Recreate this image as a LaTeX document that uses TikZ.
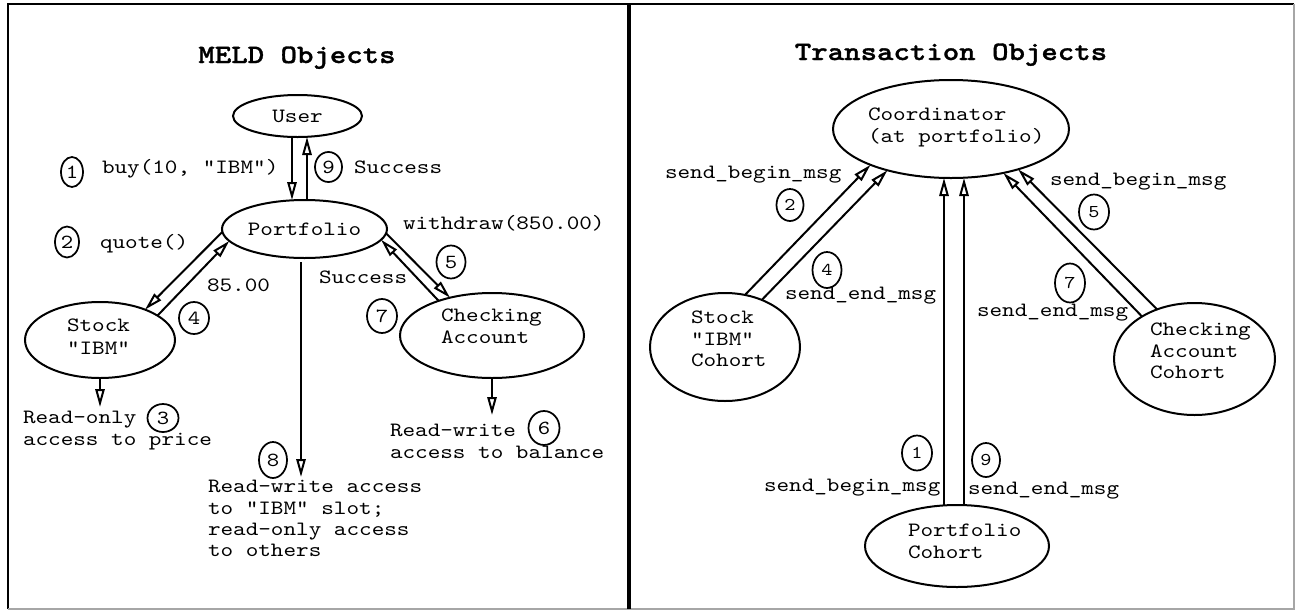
\documentclass[tikz,border=0pt]{standalone}
\usepackage{fontspec}
\setmonofont{lmmono10-regular.otf}[FakeStretch=1.18, BoldFont=lmmonolt10-bold.otf, BoldFeatures={FakeBold=1.2}]
\usetikzlibrary{shapes.geometric, arrows.meta}
\def\pxu{0.75pt}
\newcommand\txtfont{\fontsize{15.25pt}{16pt}\selectfont\ttfamily}
\newcommand\numfont{\fontsize{15pt}{16pt}\selectfont\ttfamily}
\newcommand\numfontr{\fontsize{13.5pt}{14pt}\selectfont\ttfamily}
\newcommand\titlefont{\fontsize{19.9pt}{22pt}\selectfont\ttfamily\bfseries}
\begin{document}
\begin{tikzpicture}[x=0.75pt, y=-0.75pt,
  every node/.style={inner sep=0pt, outer sep=0pt},
  obj/.style={draw, ellipse, line width=1.5pt, inner sep=0pt},
  num/.style={draw, ellipse, line width=1.3pt, inner sep=0pt, font=\numfont},
  numr/.style={num, font=\numfontr},
  lbl/.style={font=\txtfont, anchor=base west},
  mlbl/.style={font=\txtfont, anchor=north west, align=left},
  ttl/.style={font=\titlefont, anchor=base},
  msg/.style={line width=1.5pt, -{Triangle[open, length=13.5pt, width=7pt]}},
]
\useasboundingbox (0,0) rectangle (1296,611);
\fill[white] (0,0) rectangle (1296,611);
% frame
\draw[line width=1.5pt] (8,609) -- (8,3.5) -- (1294,3.5);
\draw[line width=1pt, black!35] (1294,3.5) -- (1294,609) -- (8,609);
\draw[line width=3pt] (629,3.5) -- (629,609);

% ---------------- left panel: MELD objects
\node[ttl] (meldT) at (297,63) {MELD Objects};

\node[obj, minimum width=129*\pxu, minimum height=42*\pxu, font=\txtfont] (user) at (297.5,116) {User};
\node[obj, minimum width=165*\pxu, minimum height=58*\pxu, font=\txtfont] (portfolio) at (304.5,229) {Portfolio};
\node[obj, minimum width=150*\pxu, minimum height=76*\pxu] (stock) at (100,340) {};
\node[mlbl, font=\fontsize{15.25pt}{17pt}\selectfont\ttfamily] (stockT) at (67,316) {\strut Stock\\\strut "IBM"};
\node[obj, minimum width=184*\pxu, minimum height=85*\pxu] (checking) at (492,335.5) {};
\node[mlbl] (checkingT) at (441,307) {\strut Checking\\\strut Account};

\node[num, minimum width=22*\pxu, minimum height=30*\pxu] (n1) at (72,172) {1};
\node[lbl] (buy) at (102,173) {buy(10, "IBM")};
\node[num, minimum width=27*\pxu, minimum height=30*\pxu] (n9) at (328.5,167) {9};
\node[lbl] (succ1) at (354,173) {Success};
\node[num, minimum width=24*\pxu, minimum height=31*\pxu] (n2) at (67,242) {2};
\node[lbl] (quote) at (100,248) {quote()};
\node[lbl] (withdraw) at (403,229) {withdraw(850.00)};
\node[lbl] (price) at (207,291) {85.00};
\node[num, minimum width=29*\pxu, minimum height=33*\pxu] (n5) at (451,262) {5};
\node[lbl] (succ2) at (319,283) {Success};
\node[num, minimum width=30*\pxu, minimum height=32*\pxu] (n4) at (194,318) {4};
\node[num, minimum width=30*\pxu, minimum height=34*\pxu] (n7) at (382,316) {7};

\node[mlbl] (readonly) at (23,409) {\strut Read-only\\\strut access to price};
\node[num, minimum width=31*\pxu, minimum height=28*\pxu] (n3) at (163,418) {3};
\node[mlbl] (rwslot) at (208,478) {\strut Read-write access\\\strut to "IBM" slot;\\\strut read-only access\\\strut to others};
\node[num, minimum width=28*\pxu, minimum height=36*\pxu] (n8) at (273,460) {8};
\node[mlbl] (rwbal) at (390,422) {\strut Read-write\\\strut access to balance};
\node[num, minimum width=31*\pxu, minimum height=34*\pxu] (n6) at (544,428) {6};

\coordinate (rotip) at (100,407);
\coordinate (rwtip) at (301,477);
\coordinate (cbtip) at (492,415);

\draw[msg] ([xshift=-5.5*\pxu]user.south) -- ([xshift=-12.5*\pxu]portfolio.north);
\draw[msg] ([xshift=2.5*\pxu]portfolio.north) -- ([xshift=9.5*\pxu]user.south);
\draw[msg] (portfolio.182.7) -- (stock.34.6);
\draw[msg] (stock.23.3) -- (portfolio.189.5);
\draw[msg] (portfolio.357.2) -- (checking.138.9);
\draw[msg] (checking.147.4) -- (portfolio.352.1);
\draw[msg] ([xshift=-3.5*\pxu, yshift=-4*\pxu]portfolio.south) -- (rwtip);
\draw[msg] (stock.south) -- (rotip);
\draw[msg] (checking.south) -- (cbtip);

% ---------------- right panel: transaction objects
\node[ttl] (transT) at (951,60) {Transaction Objects};

\node[obj, minimum width=236*\pxu, minimum height=98*\pxu] (coord) at (951,129) {};
\node[mlbl] (coordT) at (868,106) {\strut Coordinator\\\strut (at portfolio)};
\node[obj, minimum width=150*\pxu, minimum height=108*\pxu] (stockc) at (725,347) {};
\node[mlbl] (stockcT) at (691,309) {\strut Stock\\\strut "IBM"\\\strut Cohort};
\node[obj, minimum width=161*\pxu, minimum height=112*\pxu] (checkc) at (1194.5,359) {};
\node[mlbl] (checkcT) at (1150,321) {\strut Checking\\\strut Account\\\strut Cohort};
\node[obj, minimum width=184*\pxu, minimum height=82*\pxu] (portc) at (957,546) {};
\node[mlbl] (portcT) at (908,522) {\strut Portfolio\\\strut Cohort};

\node[lbl] (sb2) at (665,178) {send\_begin\_msg};
\node[numr, minimum width=27*\pxu, minimum height=32*\pxu] (r2) at (790,205) {2};
\node[numr, minimum width=29*\pxu, minimum height=36*\pxu] (r4) at (827,270) {4};
\node[lbl] (se4) at (785,299) {send\_end\_msg};
\node[lbl] (sb5) at (1050,185) {send\_begin\_msg};
\node[numr, minimum width=30*\pxu, minimum height=35*\pxu] (r5) at (1094,212) {5};
\node[numr, minimum width=30*\pxu, minimum height=39*\pxu] (r7) at (1070,283) {7};
\node[lbl] (se7) at (977,316) {send\_end\_msg};
\node[numr, minimum width=30*\pxu, minimum height=35*\pxu] (r1) at (917,453) {1};
\node[lbl] (sb1) at (764,491) {send\_begin\_msg};
\node[numr, minimum width=28*\pxu, minimum height=34*\pxu] (r9) at (986,460) {9};
\node[lbl] (se9) at (968,494) {send\_end\_msg};

\draw[msg] (stockc.69) -- (coord.204.1);
\draw[msg] (stockc.52.8) -- (coord.213.3);
\draw[msg] ([xshift=-13*\pxu]portc.north) -- ([xshift=-7*\pxu]coord.south);
\draw[msg] ([xshift=7*\pxu]portc.north) -- ([xshift=13*\pxu]coord.south);
\draw[msg] (checkc.127.4) -- (coord.329.3);
\draw[msg] (checkc.141.3) -- (coord.320.3);
\end{tikzpicture}
\end{document}
